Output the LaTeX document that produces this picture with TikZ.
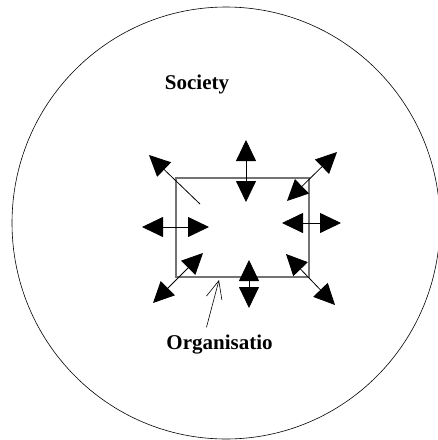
\documentclass[tikz,border=0pt]{standalone}
\usepackage{fontspec}
\setmainfont{Liberation Serif}
\usetikzlibrary{arrows.meta,positioning,calc}

\begin{document}
\begin{tikzpicture}[
    x=1pt, y=-1pt,
    lbl/.style={font=\fontsize{21}{24}\selectfont\bfseries, inner sep=0pt},
    orgbox/.style={rectangle, draw=black!55, line width=1.2pt, minimum width=133pt, minimum height=99pt, inner sep=0pt},
    hd/.style={Triangle[length=21pt,width=20pt]},
    dbl/.style={{Triangle[length=21pt,width=20pt]}-{Triangle[length=21pt,width=20pt]}, line width=0.8pt},
    sgl/.style={-{Triangle[length=21pt,width=20pt]}, line width=0.8pt},
    pnt/.style={-{Straight Barb[length=18pt,width=16pt]}, line width=0.6pt}
]
    \useasboundingbox (0,0) rectangle (438,440);
    \draw [line width=0.6pt] (226,223) ellipse [x radius=214, y radius=216];

    \node [orgbox] (org) at (242.5,227.5) {};
    \node [lbl] (soc) at (197,84) {Society};
    \node [lbl] (orgl) at (219.5,345) {Organisatio};

    % arrow ends
    \coordinate (t1) at (246,140);   \coordinate (t2) at (246,202);
    \coordinate (b1) at (249,260);   \coordinate (b2) at (249,308);
    \coordinate (l1) at (142,227);   \coordinate (l2) at (209,227);
    \coordinate (r1) at (282,223);   \coordinate (r2) at (341,223);
    \coordinate (tl1) at (200,204);  \coordinate (tl2) at (149,155);
    \coordinate (tr1) at (287,201);  \coordinate (tr2) at (337,152);
    \coordinate (bl1) at (203,253);  \coordinate (bl2) at (153,303);
    \coordinate (br1) at (286,254);  \coordinate (br2) at (335,305);
    \coordinate (ptip) at (219,280);

    \draw [dbl] (t1) -- (t2);
    \draw [dbl] (b1) -- (b2);
    \draw [dbl] (l1) -- (l2);
    \draw [dbl] (r1) -- (r2);
    \draw [sgl] (tl1) -- (tl2);
    \draw [dbl] (tr1) -- (tr2);
    \draw [dbl] (bl1) -- (bl2);
    \draw [dbl] (br1) -- (br2);

    \draw [pnt] ($(orgl.north)+(-13,-8)$) -- (ptip);
\end{tikzpicture}
\end{document}
